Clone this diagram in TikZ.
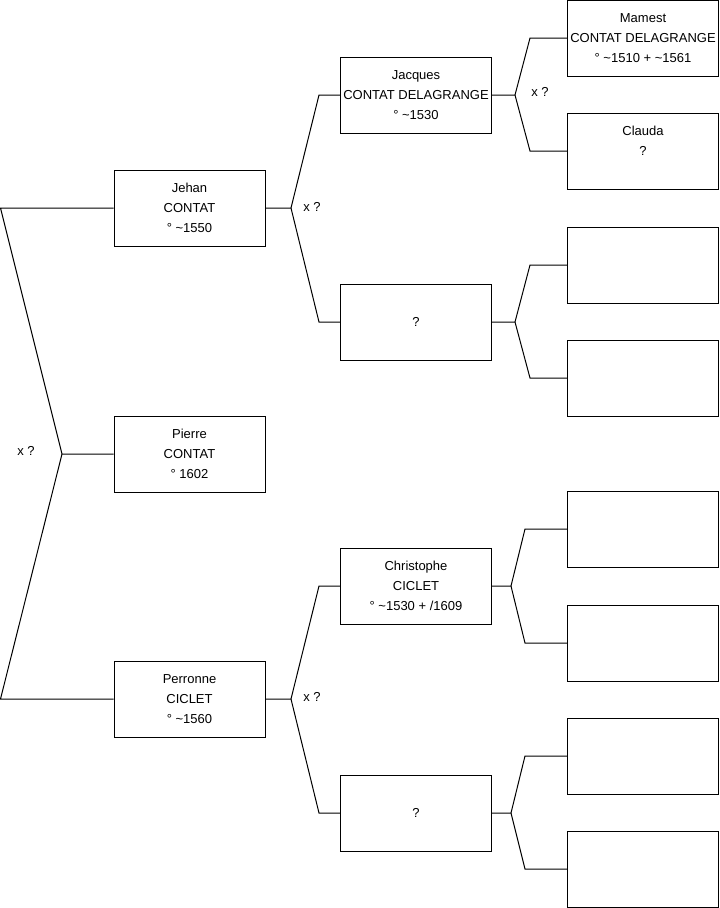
\documentclass[tikz,border=0pt]{standalone}
\usepackage{fontspec}
\setmainfont{Liberation Sans}
\tikzset{
  personbox/.style={draw, line width=0.75pt, minimum width=113.25pt, minimum height=57pt,
    inner sep=0pt, align=center, font=\fontsize{9.75}{15}\selectfont},
  link/.style={line width=0.75pt},
  mark label/.style={font=\fontsize{9.75}{11}\selectfont, inner sep=0pt}
}
\begin{document}
\begin{tikzpicture}[x=0.75pt,y=-0.75pt]
\useasboundingbox (0,0) rectangle (719,908);

% generation 1
\node[personbox] (pierre) at (189.5,454) {Pierre\\ CONTAT\\ ° 1602};

% generation 2
\node[personbox] (jehan) at (189.5,208) {Jehan\\ CONTAT\\ ° \textasciitilde1550};
\node[personbox] (perronne) at (189.5,699) {Perronne\\ CICLET\\ ° \textasciitilde1560};

% generation 3
\node[personbox] (jacques) at (416,95) {Jacques\\ CONTAT DELAGRANGE\\ ° \textasciitilde1530};
\node[personbox] (unknowna) at (416,322) {?};
\node[personbox] (christophe) at (416,586) {Christophe\\ CICLET\\ ° \textasciitilde1530 + /1609};
\node[personbox] (unknownb) at (416,813) {?};

% generation 4
\node[personbox] (mamest) at (643,38) {Mamest\\ CONTAT DELAGRANGE\\ ° \textasciitilde1510 + \textasciitilde1561};
\node[personbox] (clauda) at (643,151) {Clauda\\ ?\\ \mbox{}};
\node[personbox] (ga) at (643,265) {};
\node[personbox] (gb) at (643,378) {};
\node[personbox] (gc) at (643,529) {};
\node[personbox] (gd) at (643,643) {};
\node[personbox] (ge) at (643,756) {};
\node[personbox] (gf) at (643,869) {};

% fork points
\coordinate (forkp) at (62,454);
\coordinate (forkj) at (291,208);
\coordinate (forkr) at (291,699);
\coordinate (forkja) at (515,95);
\coordinate (forkua) at (515,322);
\coordinate (forkch) at (511,586);
\coordinate (forkub) at (511,813);

% connectors
\draw[link] (pierre.west) -- (forkp) -- ([xshift=-84.75pt]jehan.west) -- (jehan.west);
\draw[link] (forkp) -- ([xshift=-84.75pt]perronne.west) -- (perronne.west);

\draw[link] (jehan.east) -- (forkj) -- ([xshift=-15.75pt]jacques.west) -- (jacques.west);
\draw[link] (forkj) -- ([xshift=-15.75pt]unknowna.west) -- (unknowna.west);
\draw[link] (perronne.east) -- (forkr) -- ([xshift=-15.75pt]christophe.west) -- (christophe.west);
\draw[link] (forkr) -- ([xshift=-15.75pt]unknownb.west) -- (unknownb.west);

\draw[link] (jacques.east) -- (forkja) -- ([xshift=-27.75pt]mamest.west) -- (mamest.west);
\draw[link] (forkja) -- ([xshift=-27.75pt]clauda.west) -- (clauda.west);
\draw[link] (unknowna.east) -- (forkua) -- ([xshift=-27.75pt]ga.west) -- (ga.west);
\draw[link] (forkua) -- ([xshift=-27.75pt]gb.west) -- (gb.west);
\draw[link] (christophe.east) -- (forkch) -- ([xshift=-31.5pt]gc.west) -- (gc.west);
\draw[link] (forkch) -- ([xshift=-31.5pt]gd.west) -- (gd.west);
\draw[link] (unknownb.east) -- (forkub) -- ([xshift=-31.5pt]ge.west) -- (ge.west);
\draw[link] (forkub) -- ([xshift=-31.5pt]gf.west) -- (gf.west);

% marriage marks
\node[mark label] (xp) at (26,451) {x ?};
\node[mark label] (xj) at (312,207) {x ?};
\node[mark label] (xr) at (312,697) {x ?};
\node[mark label] (xja) at (540,92) {x ?};
\end{tikzpicture}
\end{document}
